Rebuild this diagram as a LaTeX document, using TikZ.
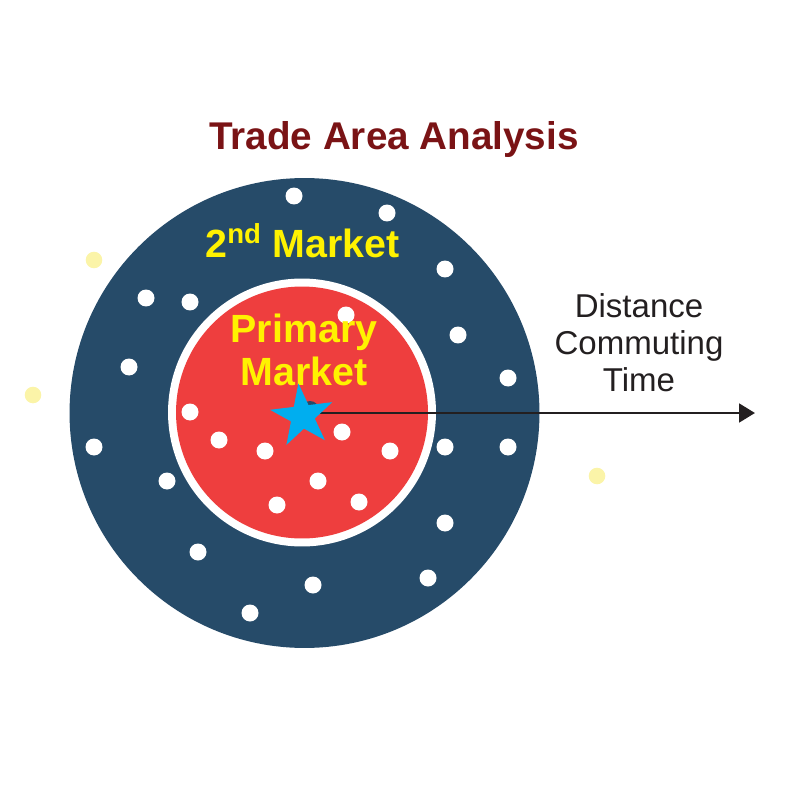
\documentclass[tikz,border=0pt]{standalone}
\usepackage{fontspec}
\setmainfont{Liberation Sans}
\usetikzlibrary{arrows.meta,shapes.geometric}
\definecolor{ringblue}{HTML}{264B69}
\definecolor{marketred}{HTML}{EE3E3E}
\definecolor{labelyellow}{HTML}{FFF200}
\definecolor{titlered}{HTML}{7A1315}
\definecolor{paleyellow}{HTML}{FBF4A8}
\definecolor{starblue}{HTML}{00AEEF}
\definecolor{arrowblack}{HTML}{231F20}
\tikzset{
  spot/.style={fill=white},
  palespot/.style={fill=paleyellow},
  marketlabel/.style={text=labelyellow, font=\bfseries\fontsize{22.4}{24.4}\selectfont, align=center, anchor=base},
}

\begin{document}
\begin{tikzpicture}[x=0.02cm,y=-0.02cm]
				\useasboundingbox (0,0) rectangle (800,800);
				
				\node[text=titlered, font=\bfseries\fontsize{22}{26}\selectfont, anchor=base] (title) at (394,150) {Trade Area Analysis};
				
				\fill[ringblue] (304.5,413) circle (4.7cm);
				\fill[white] (302,412.5) circle (2.68cm);
				\fill[marketred] (302,412.5) circle (2.52cm);
				
				\foreach \x/\y in {294/196, 387/213, 445/269, 146/298, 190/302, 346/315, 458/335, 129/367, 508/378,
						190/412, 219/440, 265/451, 342/432, 390/451, 445/447, 508/447, 94/447, 167/481,
						318/481, 277/505, 359/502, 445/523, 198/552, 313/585, 428/578, 250/613}
					\fill[spot] (\x,\y) circle (0.17cm);
				
				\foreach \x/\y in {94/260, 33/395, 597/476}
					\fill[palespot] (\x,\y) circle (0.166cm);
				
				\node[marketlabel] (second) at (302.5,257) {2\textsuperscript{nd} Market};
				\node[marketlabel] (primary) at (304,385) {Primary\\Market};
				
				\node[circle, fill=ringblue, minimum size=0.36cm, inner sep=0] (hub) at (310,410) {};
				\coordinate (far) at (755,413);
				\draw[arrowblack, line width=1.7pt, -{Triangle[length=9pt, width=10.5pt]}] (hub.center) ++(0,3) -- (far);
				\node[star, star points=5, star point ratio=2.618, minimum size=1.32cm, inner sep=0, fill=starblue, rotate=7] (store) at (302.4,416.1) {};
				
				\node[text=arrowblack, font=\fontsize{18.8}{21}\selectfont, align=center, anchor=base] (axis) at (639,391) {Distance\\Commuting\\Time};
			\end{tikzpicture}
\end{document}
